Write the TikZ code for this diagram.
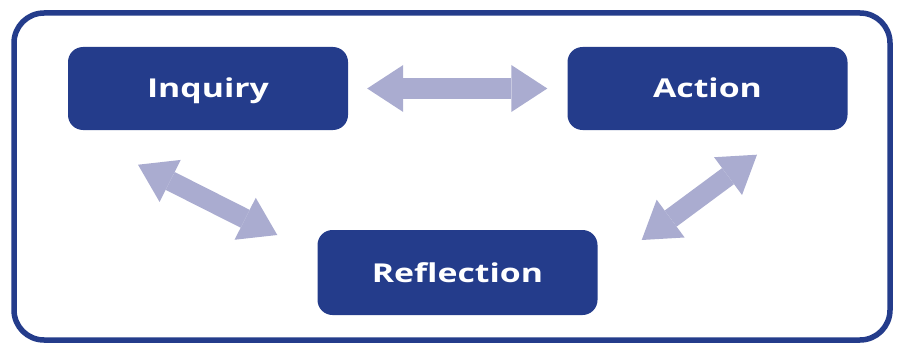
\documentclass[tikz,border=0pt]{standalone}
\usepackage{fontspec}
\setmainfont{Open Sans}[FakeStretch=1.3]
\usetikzlibrary{arrows.meta}
\definecolor{boxblue}{RGB}{36,60,139}
\definecolor{arrowlav}{RGB}{170,172,208}
\tikzset{
  stage/.style={fill=boxblue, rounded corners=15pt, minimum width=280pt,
    minimum height=83pt, text=white, font=\bfseries\fontsize{26}{30}\selectfont,
    text height=20pt, text depth=1pt},
  link/.style={draw=arrowlav, line width=20pt,
    {Triangle[length=36pt,width=47pt,line width=0pt]}-{Triangle[length=36pt,width=47pt,line width=0pt]}}
}
\begin{document}
\begin{tikzpicture}[x=1pt,y=-1pt]
\useasboundingbox (0,0) rectangle (897,345);
% outer frame
\draw[boxblue, line width=5.5pt, rounded corners=30pt] (14,13) rectangle (890,340);
% the three stages
\node[stage] (inq) at (208,88.5) {Inquiry};
\node[stage] (act) at (707.5,88.5) {Action};
\node[stage, minimum height=85pt] (refl) at (457.5,272.5) {Reflection};
% arrow ends
\coordinate (inqtip) at ([shift={(-70,34.5)}]inq.south);
\coordinate (refltipl) at ([shift={(-40,-37.5)}]refl.west);
\coordinate (acttip) at ([shift={(49.5,24.5)}]act.south);
\coordinate (refltipr) at ([shift={(44,-32.5)}]refl.east);
% links
\draw[link, shorten <=19pt, shorten >=20pt] (inq) -- (act);
\draw[link] (inqtip) -- (refltipl);
\draw[link] (acttip) -- (refltipr);
\end{tikzpicture}
\end{document}
